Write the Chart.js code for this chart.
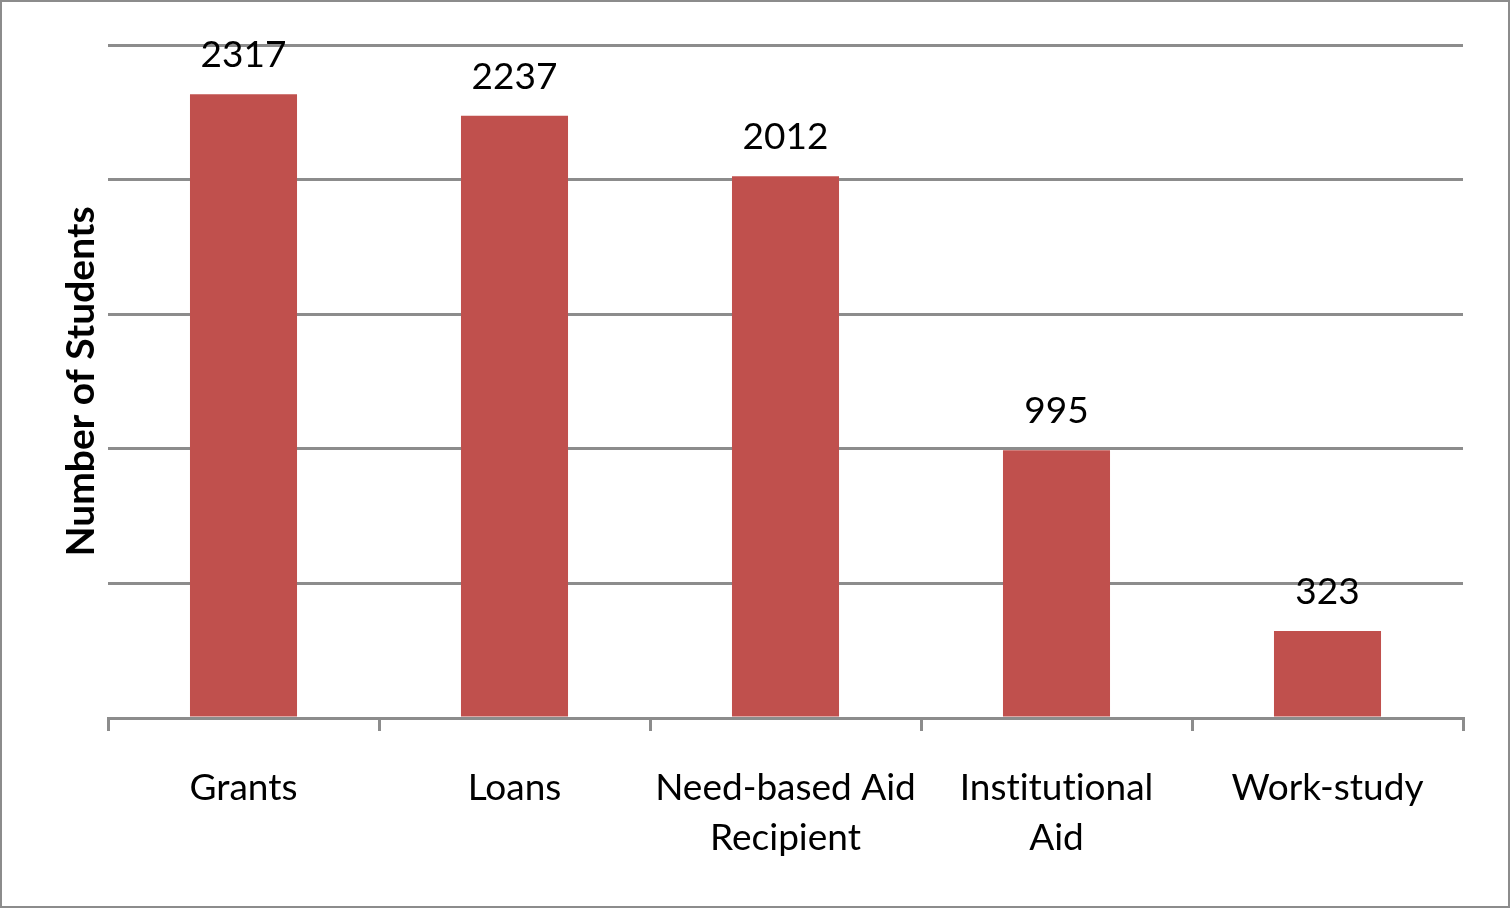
<!DOCTYPE html>
<html>
<head>
<meta charset="utf-8">
<script src="https://cdn.jsdelivr.net/npm/chart.js@4.4.1/dist/chart.umd.min.js"></script>
<style>
  html, body { margin: 0; padding: 0; background: #fff; }
  canvas { display: block; }
</style>
</head>
<body>
<canvas id="aid-chart" width="1510" height="908"></canvas>
<script>
const categories = [
  ["Grants"],
  ["Loans"],
  ["Need-based Aid", "Recipient"],
  ["Institutional", "Aid"],
  ["Work-study"],
];
const students = [2317, 2237, 2012, 995, 323];
const yMax = 2500;
const yStep = 500;

const FONT = "Lato, 'Open Sans', sans-serif";
const GRID = "#8c8c8c";

// outer frame around the whole chart
const framePlugin = {
  id: "frame",
  beforeDraw(chart) {
    const ctx = chart.ctx;
    // no "ti"/"fi" ligatures in the labels
    ctx.textRendering = "optimizeSpeed";
    ctx.save();
    ctx.fillStyle = "#fff";
    ctx.fillRect(0, 0, chart.width, chart.height);
    ctx.strokeStyle = GRID;
    ctx.lineWidth = 2;
    ctx.strokeRect(1, 1, chart.width - 2, chart.height - 2);
    ctx.restore();
  },
};

// numbers printed above each bar
const valueLabels = {
  id: "valueLabels",
  afterDatasetsDraw(chart) {
    const ctx = chart.ctx;
    const meta = chart.getDatasetMeta(0);
    ctx.save();
    ctx.font = "37px " + FONT;
    ctx.fillStyle = "#000";
    ctx.textAlign = "center";
    ctx.textBaseline = "alphabetic";
    meta.data.forEach((bar, i) => {
      ctx.fillText(String(students[i]), bar.x, bar.y - 27);
    });
    ctx.restore();
  },
};

new Chart(document.getElementById("aid-chart"), {
  type: "bar",
  data: {
    labels: categories,
    datasets: [
      {
        data: students,
        backgroundColor: "#c0504d",
        categoryPercentage: 1,
        barPercentage: 0.395,
      },
    ],
  },
  options: {
    responsive: false,
    animation: false,
    devicePixelRatio: 1,
    layout: { padding: { top: 45, right: 47, bottom: 0, left: 0 } },
    plugins: {
      legend: { display: false },
      tooltip: { enabled: false },
    },
    scales: {
      x: {
        afterFit(scale) {
          scale.height = 190;
        },
        grid: {
          offset: true,
          drawOnChartArea: false,
          drawTicks: true,
          tickLength: 13,
          color: GRID,
          lineWidth: 3,
        },
        border: { display: true, color: GRID, width: 3 },
        ticks: {
          color: "#000",
          padding: 32,
          maxRotation: 0,
          autoSkip: false,
          font: { family: FONT, size: 37, lineHeight: 1.35 },
        },
      },
      y: {
        min: 0,
        max: yMax,
        afterFit(scale) {
          scale.width = 108;
        },
        ticks: { display: false, stepSize: yStep },
        grid: { color: GRID, lineWidth: 3, drawTicks: false },
        border: { display: false },
        title: {
          display: true,
          text: "Number of Students",
          color: "#000",
          font: { family: FONT, size: 39, weight: "bold", lineHeight: 1.2 },
          padding: { top: 58, bottom: 0 },
        },
      },
    },
  },
  plugins: [framePlugin, valueLabels],
});
</script>
</body>
</html>
